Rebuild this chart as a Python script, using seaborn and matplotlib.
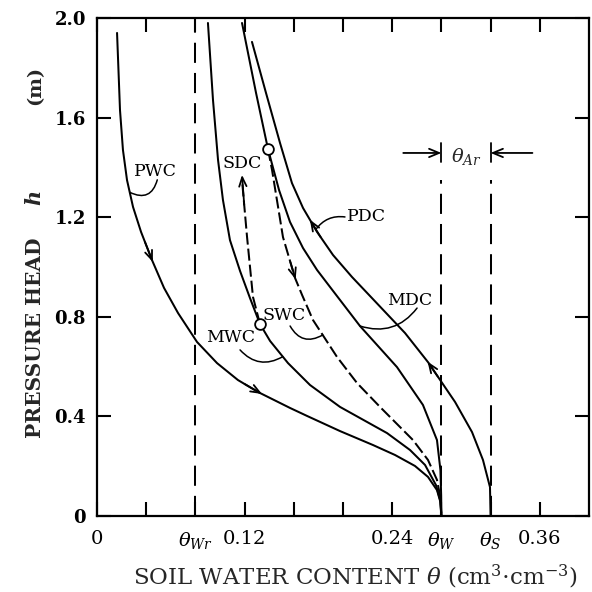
import numpy as np
import matplotlib
matplotlib.use("Agg")
import matplotlib.pyplot as plt
import seaborn as sns

# characteristic water contents (cm3/cm3)
theta_wr = 0.08
theta_w = 0.28
theta_s = 0.32
h_dash_top = 1.35

# primary wetting curve
pwc_theta = [0.0163, 0.0187, 0.0211, 0.0244, 0.0293, 0.0358, 0.0447, 0.0545, 0.0659, 0.0813,
             0.0976, 0.1146, 0.1309, 0.1569, 0.1707, 0.1976, 0.2244, 0.2423, 0.2585, 0.2691,
             0.2764, 0.2792, 0.2800]
pwc_h = [1.940, 1.630, 1.470, 1.349, 1.241, 1.141, 1.028, 0.916, 0.815, 0.699,
         0.614, 0.546, 0.498, 0.434, 0.402, 0.341, 0.285, 0.245, 0.201, 0.157,
         0.104, 0.056, 0.0]

# main wetting curve
mwc_theta = [0.0902, 0.0943, 0.0984, 0.1024, 0.1081, 0.1163, 0.1244, 0.1325, 0.1407, 0.1553,
             0.1732, 0.1976, 0.2358, 0.2545, 0.2667, 0.2756, 0.2790, 0.2800]
mwc_h = [1.980, 1.671, 1.430, 1.269, 1.108, 0.984, 0.875, 0.771, 0.703, 0.614,
         0.526, 0.438, 0.333, 0.265, 0.205, 0.124, 0.064, 0.0]

# main drying curve
mdc_theta = [0.1179, 0.1293, 0.1390, 0.1480, 0.1569, 0.1675, 0.1789, 0.1919, 0.2138, 0.2439,
             0.2650, 0.2764, 0.2792, 0.2798, 0.2800]
mdc_h = [1.980, 1.699, 1.474, 1.309, 1.181, 1.076, 0.988, 0.904, 0.763, 0.598,
         0.446, 0.305, 0.185, 0.084, 0.0]

# primary drying curve
pdc_theta = [0.1260, 0.1374, 0.1488, 0.1585, 0.1675, 0.1789, 0.1919, 0.2073, 0.2236, 0.2504,
             0.2691, 0.2911, 0.3049, 0.3138, 0.3195, 0.3200]
pdc_h = [1.904, 1.699, 1.498, 1.337, 1.237, 1.141, 1.048, 0.960, 0.875, 0.735,
         0.618, 0.458, 0.337, 0.225, 0.116, 0.0]

# scanning drying curve (dashed, downwards from upper point)
sdc_theta = [0.1390, 0.1423, 0.1512, 0.1610, 0.1667, 0.1756, 0.1951, 0.2114, 0.2301, 0.2569,
             0.2691, 0.2764, 0.2793, 0.2800]
sdc_h = [1.474, 1.390, 1.120, 0.956, 0.888, 0.787, 0.639, 0.534, 0.438, 0.305,
         0.225, 0.145, 0.072, 0.0]

# scanning wetting curve (dashed, upwards from lower point)
swc_theta = [0.1325, 0.1268, 0.1220, 0.1179]
swc_h = [0.771, 0.880, 1.120, 1.349]

# reversal points
rev_theta = [0.1390, 0.1325]
rev_h = [1.474, 0.771]

xtick_vals = [0, 0.04, 0.08, 0.12, 0.16, 0.20, 0.24, 0.28, 0.32, 0.36]
xtick_labels = ["0", "", r"$\theta_{Wr}$", "0.12", "", "", "0.24", r"$\theta_W$", r"$\theta_S$", "0.36"]
ytick_vals = [0, 0.4, 0.8, 1.2, 1.6, 2.0]
ytick_labels = ["0", "0.4", "0.8", "1.2", "1.6", "2.0"]

sns.set_theme(style="ticks")
plt.rcParams["font.family"] = ["DejaVu Serif"]
plt.rcParams["mathtext.fontset"] = "dejavuserif"

fig = plt.figure(figsize=(5.92, 5.92), dpi=100)
ax = fig.add_axes([97 / 592, 76 / 592, 492 / 592, 498 / 592])

lw = 1.45
for th, hh in [(pwc_theta, pwc_h), (mwc_theta, mwc_h), (mdc_theta, mdc_h), (pdc_theta, pdc_h)]:
    sns.lineplot(x=th, y=hh, sort=False, color="black", lw=lw, ax=ax)
for th, hh in [(sdc_theta, sdc_h), (swc_theta, swc_h)]:
    sns.lineplot(x=th, y=hh, sort=False, color="black", lw=lw, ax=ax, linestyle=(0, (6, 2)))

ax.plot([theta_wr, theta_wr], [0, 2], color="black", lw=lw, ls=(0, (10, 5)))
ax.plot([theta_w, theta_w], [0, h_dash_top], color="black", lw=lw, ls=(0, (10, 5)))
ax.plot([theta_s, theta_s], [0, h_dash_top], color="black", lw=lw, ls=(0, (10, 5)))

sns.scatterplot(x=rev_theta, y=rev_h, s=60, facecolor="white", edgecolor="black",
                linewidth=1.3, zorder=5, ax=ax)


def on_curve(th, hh, hv):
    order = np.argsort(hh)
    return float(np.interp(hv, np.array(hh)[order], np.array(th)[order]))


def arrow_on(th, hh, h_tail, h_tip):
    ax.annotate("", xy=(on_curve(th, hh, h_tip), h_tip), xytext=(on_curve(th, hh, h_tail), h_tail),
                arrowprops=dict(arrowstyle="->,head_length=0.55,head_width=0.22", color="black",
                                lw=1.3, shrinkA=0, shrinkB=0))


arrow_on(pwc_theta, pwc_h, 1.10, 1.02)
arrow_on(pwc_theta, pwc_h, 0.53, 0.49)
arrow_on(pdc_theta, pdc_h, 1.12, 1.19)
arrow_on(pdc_theta, pdc_h, 0.56, 0.62)
arrow_on(sdc_theta, sdc_h, 1.02, 0.95)
arrow_on(swc_theta, swc_h, 1.25, 1.37)

# curve labels with leaders
lab_kw = dict(fontsize=12.5, ha="center", va="center", color="black")
ax.text(0.0472, 1.385, "PWC", **lab_kw)
ax.text(0.1179, 1.414, "SDC", **lab_kw)
ax.text(0.2195, 1.201, "PDC", **lab_kw)
ax.text(0.2545, 0.867, "MDC", **lab_kw)
ax.text(0.1520, 0.807, "SWC", **lab_kw)
ax.text(0.1090, 0.715, "MWC", **lab_kw)


def leader(start, th, hh, h_end, rad):
    ax.annotate("", xy=(on_curve(th, hh, h_end), h_end), xytext=start,
                arrowprops=dict(arrowstyle="-", color="black", lw=1.1, shrinkA=0, shrinkB=0,
                                connectionstyle=f"arc3,rad={rad}"))


leader((0.0490, 1.350), pwc_theta, pwc_h, 1.300, -0.6)
leader((0.2016, 1.201), pdc_theta, pdc_h, 1.15, 0.3)
leader((0.2602, 0.835), mdc_theta, mdc_h, 0.763, -0.35)
leader((0.1570, 0.763), sdc_theta, sdc_h, 0.727, 0.5)
leader((0.1163, 0.667), mwc_theta, mwc_h, 0.640, 0.4)

# entrapped air bracket
ax.plot([theta_w, theta_w], [1.42, 1.50], color="black", lw=1.3)
ax.plot([theta_s, theta_s], [1.42, 1.50], color="black", lw=1.3)
ax.annotate("", xy=(theta_w, 1.458), xytext=(theta_w - 0.031, 1.458),
            arrowprops=dict(arrowstyle="->,head_length=0.6,head_width=0.25", color="black",
                            lw=1.3, shrinkA=0, shrinkB=0))
ax.annotate("", xy=(theta_s, 1.458), xytext=(theta_s + 0.034, 1.458),
            arrowprops=dict(arrowstyle="->,head_length=0.6,head_width=0.25", color="black",
                            lw=1.3, shrinkA=0, shrinkB=0))
ax.text((theta_w + theta_s) / 2, 1.445, r"$\theta_{Ar}$", fontsize=14, ha="center", va="center")

ax.set_xlim(0, 0.40)
ax.set_ylim(0, 2.0)
ax.set_xticks(xtick_vals)
ax.set_xticklabels(xtick_labels, fontsize=14)
ax.set_yticks(ytick_vals)
ax.set_yticklabels(ytick_labels, fontsize=13, fontweight="bold")
ax.tick_params(direction="in", length=10, width=1.5, top=True, right=True, colors="black")
ax.tick_params(axis="x", pad=10)
ax.tick_params(axis="y", pad=8)
for sp in ax.spines.values():
    sp.set_linewidth(1.6)
    sp.set_color("black")

# axis titles
fig.text(0.60, 0.025, r"SOIL WATER CONTENT $\theta$ (cm$^3$$\cdot$cm$^{-3}$)", fontsize=16.5,
         ha="center", va="center")
fig.text(0.059, 0.430, "PRESSURE HEAD", fontsize=14.5, fontweight="bold", rotation=90,
         ha="center", va="center")
fig.text(0.059, 0.665, r"$\boldsymbol{h}$", fontsize=15, rotation=90, ha="center", va="center")
fig.text(0.059, 0.856, "(m)", fontsize=14, fontweight="bold", rotation=90, ha="center", va="center")

fig.savefig("out.png", dpi=100)
